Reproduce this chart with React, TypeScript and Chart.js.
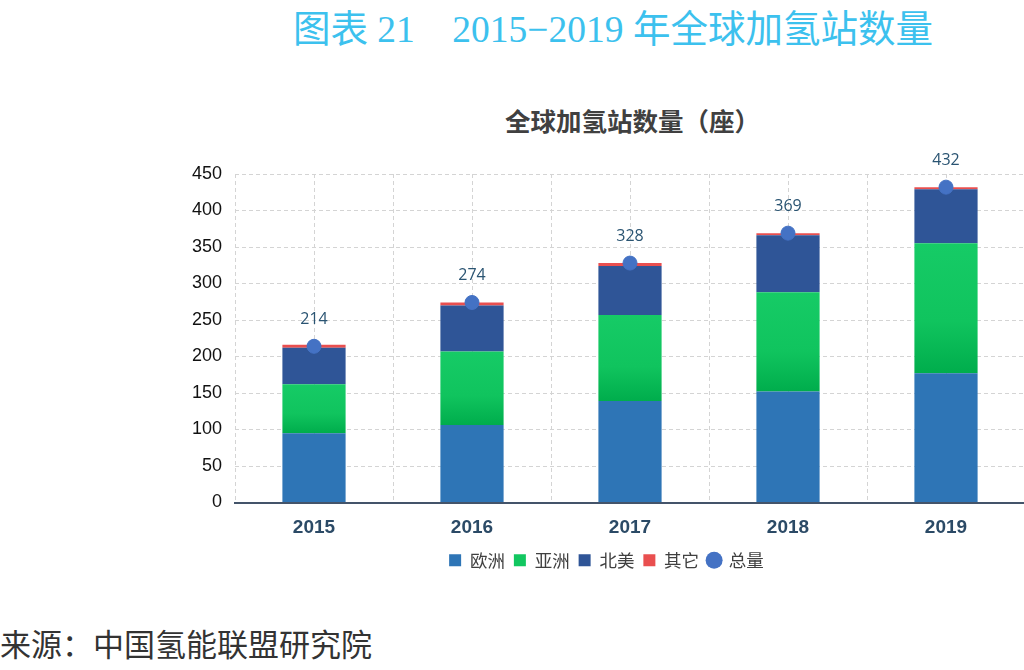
import React, { useEffect, useRef } from "react";
import { Chart, registerables } from "chart.js";

Chart.register(...registerables);

const years = ["2015", "2016", "2017", "2018", "2019"];
const europe = [95, 106, 139, 152, 177];
const asia = [67, 101, 118, 136, 178];
const northAmerica = [50, 63, 67, 78, 74];
const others = [4, 4, 4, 3, 3];
const totals = [214, 274, 328, 369, 432];
const yTicks = [0, 50, 100, 150, 200, 250, 300, 350, 400, 450];

const centerLines = {
  id: "centerLines",
  beforeDatasetsDraw(chart: any) {
    const { ctx, chartArea, scales } = chart;
    ctx.save();
    ctx.strokeStyle = "#d4d4d4";
    ctx.lineWidth = 1;
    ctx.setLineDash([4, 3]);
    years.forEach((_, i) => {
      const x = Math.round(scales.x.getPixelForValue(i)) + 0.5;
      ctx.beginPath();
      ctx.moveTo(x, chartArea.top);
      ctx.lineTo(x, chartArea.bottom);
      ctx.stroke();
    });
    ctx.restore();
  },
};

const totalLabels = {
  id: "totalLabels",
  afterDatasetsDraw(chart: any) {
    const { ctx } = chart;
    const meta = chart.getDatasetMeta(4);
    ctx.save();
    ctx.fillStyle = "#2a5472";
    ctx.font = "16px 'Open Sans', 'DejaVu Sans', sans-serif";
    ctx.textAlign = "center";
    ctx.textBaseline = "middle";
    meta.data.forEach((pt: any, i: number) => {
      ctx.fillText(String(totals[i]), pt.x, pt.y - 27);
    });
    ctx.restore();
  },
};

export default function App() {
  const ref = useRef<HTMLCanvasElement>(null);
  useEffect(() => {
    const canvas = ref.current!;
    const chart = new Chart(canvas, {
      type: "bar",
      data: {
        labels: years,
        datasets: [
          { label: "欧洲", data: europe, backgroundColor: "#2e75b6", stack: "s", order: 2 },
          {
            label: "亚洲",
            data: asia,
            stack: "s",
            order: 2,
            backgroundColor: (c: any) => {
              const chartObj = c.chart;
              const y = chartObj.scales?.y;
              if (!y || c.dataIndex === undefined || c.type !== "data") return "#12c760";
              const i = c.dataIndex;
              const top = y.getPixelForValue(europe[i] + asia[i]);
              const bot = y.getPixelForValue(europe[i]);
              const g = chartObj.ctx.createLinearGradient(0, top, 0, bot);
              g.addColorStop(0, "#16cb66");
              g.addColorStop(0.6, "#10c45e");
              g.addColorStop(1, "#00ad4c");
              return g;
            },
          },
          { label: "北美", data: northAmerica, backgroundColor: "#2f5597", stack: "s", order: 2 },
          { label: "其它", data: others, backgroundColor: "#e94f4f", stack: "s", order: 2 },
          {
            type: "line",
            label: "总量",
            data: totals,
            showLine: false,
            pointRadius: 7,
            pointHoverRadius: 7,
            pointBackgroundColor: "#4472c4",
            pointBorderColor: "#4472c4",
            backgroundColor: "#4472c4",
            borderColor: "#4472c4",
            order: 1,
          } as any,
        ],
      },
      options: {
        animation: false,
        responsive: false,
        maintainAspectRatio: false,
        layout: { padding: { left: 0, top: 24, right: 0, bottom: 0 } },
        datasets: { bar: { barPercentage: 0.4, categoryPercentage: 1 } } as any,
        plugins: {
          title: { display: false },
          tooltip: { enabled: false },
          legend: {
            position: "bottom",
            labels: {
              usePointStyle: true,
              boxWidth: 12,
              boxHeight: 12,
              padding: 9,
              color: "#404040",
              font: { size: 17.5, family: "'Noto Sans CJK SC', sans-serif" },
              generateLabels: (ch: any) => {
                const cols = ["#2e75b6", "#12c760", "#2f5597", "#e94f4f", "#4472c4"];
                return ch.data.datasets.map((d: any, i: number) => ({
                  text: d.label,
                  fillStyle: cols[i],
                  strokeStyle: cols[i],
                  lineWidth: 0,
                  pointStyle: i === 4 ? "circle" : "rect",
                  datasetIndex: i,
                  fontColor: "#404040",
                  hidden: false,
                }));
              },
            },
          },
        },
        scales: {
          x: {
            stacked: true,
            grid: { color: "#d4d4d4", drawTicks: false } as any,
            border: { display: true, color: "#44546a", width: 2, dash: [4, 3] } as any,
            ticks: {
              color: "#2b4a66",
              padding: 14,
              font: { size: 19, weight: "bold", family: "'Liberation Sans', Arial, sans-serif" },
            },
            afterFit: (axis: any) => {
              axis.height = 40;
            },
          },
          y: {
            stacked: true,
            min: 0,
            max: 450,
            afterBuildTicks: (axis: any) => {
              axis.ticks = yTicks.map((v) => ({ value: v }));
            },
            afterFit: (axis: any) => {
              axis.width = 55;
            },
            grid: { color: "#d4d4d4", drawTicks: false },
            border: { display: false, dash: [4, 3] } as any,
            ticks: {
              color: "#111111",
              padding: 13,
              font: { size: 18, family: "'Liberation Sans', Arial, sans-serif" },
            },
          },
        },
      },
      plugins: [centerLines, totalLabels],
    });
    return () => chart.destroy();
  }, []);

  return (
    <div
      style={{
        position: "absolute",
        left: 0,
        top: 0,
        width: 1024,
        height: 670,
        overflow: "hidden",
        background: "#ffffff",
      }}
    >
      <div
        style={{
          position: "absolute",
          left: 293,
          top: 6,
          fontFamily: "'Liberation Serif', 'Noto Sans CJK SC', serif",
          fontSize: 37.5,
          color: "#3cc1ee",
          whiteSpace: "pre",
          lineHeight: "48px",
        }}
      >
        {"图表 21　2015−2019 年全球加氢站数量"}
      </div>
      <div
        style={{
          position: "absolute",
          left: 505,
          top: 103,
          fontFamily: "'Noto Sans CJK SC', sans-serif",
          fontWeight: "bold",
          fontSize: 25.5,
          color: "#404040",
          lineHeight: "34px",
          whiteSpace: "pre",
        }}
      >
        全球加氢站数量（座）
      </div>
      <canvas
        ref={ref}
        width={853}
        height={429}
        style={{ position: "absolute", left: 180, top: 150, width: 853, height: 429 }}
      />
      <div
        style={{
          position: "absolute",
          left: 0,
          top: 621,
          fontFamily: "'Noto Sans CJK SC', serif",
          fontSize: 31,
          color: "#333333",
          whiteSpace: "pre",
          lineHeight: "44px",
        }}
      >
        来源：中国氢能联盟研究院
      </div>
    </div>
  );
}
